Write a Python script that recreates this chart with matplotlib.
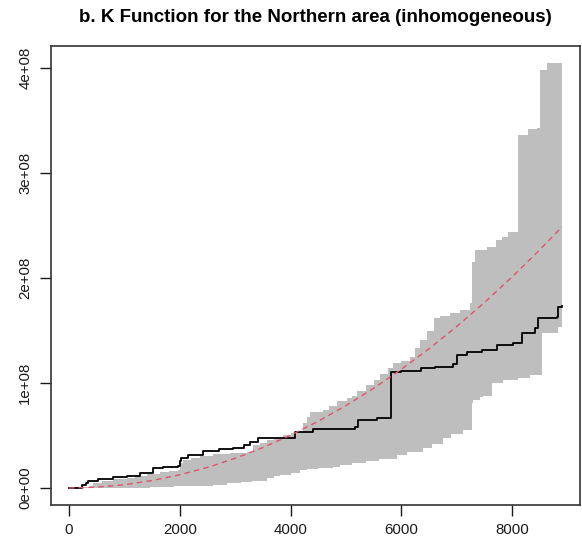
import matplotlib
matplotlib.use("Agg")
import matplotlib.pyplot as plt

plt.rcParams['font.family'] = ['Liberation Sans', 'DejaVu Sans']

# observed K (step function), r and K in 1e6 units
obs_r = [0, 230, 300, 350, 530, 800, 1040, 1280, 1520, 1700, 1970, 2010, 2030, 2150, 2420,
         2700, 2960, 3150, 3270, 3410, 4080, 4400, 5160, 5220, 5560, 5810, 6000, 6350, 6600,
         6930, 7000, 7180, 7450, 7720, 8010, 8170, 8410, 8470, 8800, 8830, 8900]
obs_k = [0.3, 2.5, 5, 6.7, 8.6, 10, 11.4, 14.6, 18.7, 20, 21, 26, 28.3, 31.4, 35.5,
         37, 38.4, 41, 44.1, 47.9, 53.6, 55.9, 58.4, 65, 66.3, 110.8, 111.7, 114, 115.5,
         118, 126.7, 129.8, 131.4, 136.2, 138.1, 147.3, 152.1, 161.6, 163.2, 172.7, 173.3]

# upper envelope
hi_r = [0, 150, 380, 430, 600, 800, 1050, 1200, 1400, 1640, 1800, 1970, 2000, 2060, 2200,
        2360, 2600, 2900, 3210, 3320, 3450, 3570, 3700, 3860, 4000, 4110, 4220, 4290, 4350,
        4590, 4700, 4830, 5010, 5100, 5200, 5370, 5500, 5610, 5750, 5850, 6000, 6150, 6250,
        6340, 6460, 6580, 6700, 6880, 7050, 7240, 7270, 7330, 7540, 7700, 7810, 7930, 8100,
        8290, 8440, 8500, 8620, 8900]
hi_k = [0, 1, 2, 5, 7, 8.5, 9.5, 11, 13, 15.5, 16.3, 17, 24, 26.7, 28.5,
        30.5, 32, 33.3, 34.6, 41, 43, 45.7, 48, 50.5, 52, 53.6, 61.6, 68, 72.7,
        74.3, 78, 83, 85.4, 88, 92, 98, 103, 109, 114, 118.7, 121, 125, 133,
        141, 150, 162, 164, 166.7, 170, 176, 215, 227, 230, 236, 239, 244, 336,
        342, 343, 398, 405, 405]

# lower envelope
lo_r = [0, 1460, 1900, 2360, 2600, 2850, 3100, 3300, 3570, 3700, 3810, 4000, 4170, 4300,
        4500, 4770, 4890, 5100, 5370, 5600, 5920, 6100, 6390, 6550, 6750, 6900, 7110, 7270,
        7300, 7420, 7470, 7630, 7830, 8100, 8320, 8530, 8830, 8900]
lo_k = [0, 1, 1.5, 2, 3, 4.5, 6, 7, 9.2, 11, 12.4, 14.5, 17.1, 18,
        19, 20.3, 22, 23.5, 25.7, 28, 31.4, 34, 37.8, 42, 47.3, 51, 55.2, 80.7,
        83.8, 87, 88, 100, 103, 105, 107.6, 147.3, 153.6, 153.6]

# theoretical K
theo_r = [0, 500, 1000, 1500, 2000, 2500, 3000, 3500, 4000, 4500, 5000, 5500, 6000,
          6500, 7000, 7500, 8000, 8500, 8900]
theo_k = [0, 0.8, 3.1, 7.1, 12.6, 19.6, 28.3, 38.5, 50.3, 63.6, 78.5, 95.0, 113.1,
          132.7, 153.9, 176.7, 201.1, 227.0, 248.8]

xticks = [0, 2000, 4000, 6000, 8000]
yticks = [0, 1e8, 2e8, 3e8, 4e8]
ylabels = ['0e+00', '1e+08', '2e+08', '3e+08', '4e+08']


def steps(r, k):
    xs, ys = [], []
    for i in range(len(r)):
        xs.append(r[i])
        ys.append(k[i] * 1e6)
        if i + 1 < len(r):
            xs.append(r[i + 1])
            ys.append(k[i] * 1e6)
    return xs, ys


fig = plt.figure(figsize=(5.82, 5.45), dpi=100)
ax = fig.add_axes([51 / 582, 40 / 545, 529 / 582, 459 / 545])

ux, uy = steps(hi_r, hi_k)
lx, ly = steps(lo_r, lo_k)
ax.fill(ux + lx[::-1], uy + ly[::-1], color='#BEBEBE', lw=0)

ox, oy = steps(obs_r, obs_k)
ax.plot(ox, oy, color='black', lw=1.3)
ax.plot(theo_r, [v * 1e6 for v in theo_k], color='#DF536B', lw=1.0, ls=(0, (4, 3)))

ax.set_xlim(-325, 9224)
ax.set_ylim(-0.162e8, 4.21e8)
ax.set_xticks(xticks)
ax.set_xticklabels([str(v) for v in xticks])
ax.set_yticks(yticks)
ax.set_yticklabels(ylabels, rotation=90, va='center')
ax.tick_params(axis='both', length=8, width=1, labelsize=10.8, colors='#1a1a1a')
ax.tick_params(axis='x', pad=5)
ax.tick_params(axis='y', pad=5.5)
for s in ax.spines.values():
    s.set_linewidth(1.2)
    s.set_color('#333333')

fig.text(315 / 582, 1 - 18 / 545, 'b. K Function for the Northern area (inhomogeneous)',
         ha='center', va='center', fontsize=13.5, fontweight='bold')

fig.savefig('out.png', dpi=100)
